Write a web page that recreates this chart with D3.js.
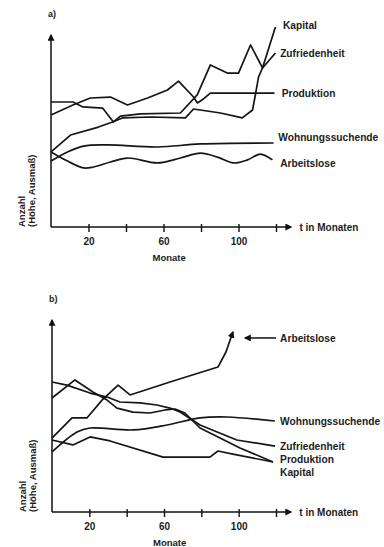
<!DOCTYPE html>
<html>
<head>
<meta charset="utf-8">
<script src="https://cdn.jsdelivr.net/npm/d3@7"></script>
<style>
  body { margin: 0; background: #fff; }
  svg { display: block; }
  text { font-family: "Liberation Sans", Arial, sans-serif; font-weight: bold; fill: #1c1c1c; }
</style>
</head>
<body>
<svg id="chart" width="384" height="547"></svg>
<script>
// months on the x axis
const tickMonths = [20, 40, 60, 80, 100, 120];
const labelledMonths = [20, 60, 100];

// panel a) : t in months, values in arbitrary units (0..100)
const aKapitalT = [0, 11.7, 17, 27.5, 33.3, 37, 47.7, 69, 78, 85, 94, 100, 106.4, 112.8, 119.7];
const aKapitalV = [65.8, 65.8, 63.2, 62.6, 55.3, 58.4, 59.5, 60, 69.5, 85.3, 81, 81, 95.8, 83.7, 105.3];
const aZufriedT = [0, 10.4, 25.3, 32.8, 38.1, 53, 71.7, 76, 90.4, 102, 107.5, 109, 110.7, 112.8, 119.7];
const aZufriedV = [39.5, 48.4, 52.6, 55.3, 57.4, 57.9, 57.4, 62.1, 60, 57.4, 61.6, 69.5, 79, 83.7, 91.6];
const aProdT = [0, 11.7, 21, 31.7, 40.8, 51.5, 62.1, 68, 76, 78.1, 81.3, 85, 119.2];
const aProdV = [58.9, 64.2, 67.9, 68.4, 64.2, 67.9, 72.1, 76.8, 68.4, 65.3, 67.4, 70.5, 70.5];
const aWohnT = [0, 8.8, 17.3, 30.1, 56.8, 79.7, 118.7];
const aWohnV = [34.7, 39.5, 42.6, 43.2, 42.1, 43.7, 44.2];
const aArbT = [0, 8.8, 17.3, 22.7, 31.7, 40.8, 56.8, 69, 79.7, 88.8, 97.3, 104.8, 111.7, 118.1];
const aArbV = [39.5, 34.7, 31.1, 31.6, 34.2, 36.3, 33.7, 36.3, 38.9, 36.8, 33.7, 35.3, 38.4, 35.3];

// panel b)
const bArbT = [0, 10.7, 18.7, 26.8, 35.4, 41.8, 63.2, 88.9, 93.2, 96.9];
const bArbV = [38.9, 49.5, 49.5, 58.9, 66.8, 61.6, 68.4, 76.3, 84.2, 94.7];
const bZufriedT = [0, 8, 20.4, 29.5, 36.4, 47.1, 56.2, 63.2, 68.6, 79.3, 99, 119.5];
const bZufriedV = [68.4, 66.8, 62.6, 60.5, 57.9, 57.4, 56.3, 54.7, 52.6, 45.8, 37.9, 34.7];
const bProdT = [0, 12.3, 21.9, 29.5, 34.8, 43.4, 52.5, 60.6, 65.9, 71.2, 79.3, 100.7, 118.4];
const bProdV = [60, 69.5, 63.2, 58.9, 54.7, 52.6, 52.1, 53.7, 54.2, 52.1, 44.2, 33.7, 26.3];
const bKapitalT = [0, 11.2, 20.4, 31.1, 59.5, 84.6, 88.9, 96.9, 118.4];
const bKapitalV = [37.9, 35.3, 39.5, 37.4, 28.9, 28.9, 32.1, 30.5, 26.3];
const bWohnT = [0, 13.4, 20.4, 43.4, 61.6, 79.3, 93.7, 119.4];
const bWohnV = [31.6, 42.1, 44.2, 43.2, 45.8, 49.5, 50, 47.9];

const zip = (t, v) => t.map((d, i) => [d, v[i]]);

const svg = d3.select("#chart");

svg.append("defs").append("marker")
    .attr("id", "arrow")
    .attr("viewBox", "0 0 10 10")
    .attr("refX", 8).attr("refY", 5)
    .attr("markerWidth", 7).attr("markerHeight", 7)
    .attr("markerUnits", "userSpaceOnUse")
    .attr("orient", "auto")
  .append("path")
    .attr("d", "M0,0 L10,5 L0,10 z")
    .attr("fill", "#111");

function drawPanel(p) {
  var x = d3.scaleLinear().domain([0, 120]).range([p.left, p.right]);
  var y = d3.scaleLinear().domain([0, 100]).range([p.bottom, p.top]);
  var g = svg.append("g");

  g.append("text")
    .attr("x", p.left - 3).attr("y", p.top - 20)
    .attr("font-size", 9)
    .text(p.name);

  // axes with arrow heads
  g.append("line")
    .attr("x1", x(0)).attr("y1", y(0))
    .attr("x2", x(0)).attr("y2", y(101))
    .attr("stroke", "#111").attr("stroke-width", 1.5)
    .attr("marker-end", "url(#arrow)");
  g.append("line")
    .attr("x1", x(0)).attr("y1", y(0))
    .attr("x2", x(128)).attr("y2", y(0))
    .attr("stroke", "#111").attr("stroke-width", 1.5)
    .attr("marker-end", "url(#arrow)");

  var axg = g.append("g")
    .attr("transform", "translate(0," + y(0) + ")")
    .call(d3.axisBottom(x)
      .tickValues(tickMonths)
      .tickFormat(d => labelledMonths.includes(d) ? d : "")
      .tickSize(5).tickSizeOuter(0).tickPadding(6));
  axg.select(".domain").remove();
  axg.selectAll(".tick line")
    .attr("y1", -3).attr("stroke", "#111").attr("stroke-width", 1.4);
  axg.selectAll(".tick text").attr("font-size", 10);

  g.append("text")
    .attr("x", x(132.5)).attr("y", y(0)).attr("dy", "0.35em")
    .attr("font-size", 10)
    .text("t in Monaten");
  g.append("text")
    .attr("x", x(63)).attr("y", y(0) + 34)
    .attr("text-anchor", "middle")
    .attr("font-size", 9.5)
    .text("Monate");

  // rotated y label
  var yl = g.append("text")
    .attr("transform", "translate(" + (p.left - 26) + "," + y(0) + ") rotate(-90)")
    .attr("font-size", 9.5);
  yl.append("tspan").attr("x", 0).attr("dy", 0).text("Anzahl");
  yl.append("tspan").attr("x", 0).attr("dy", "1.05em").text("(Höhe, Ausmaß)");

  var line = d3.line().x(d => x(d[0])).y(d => y(d[1]));

  p.series.forEach(s => {
    g.append("path")
      .datum(zip(s.t, s.v))
      .attr("fill", "none")
      .attr("stroke", "#151515")
      .attr("stroke-width", 1.7)
      .attr("stroke-linejoin", "round")
      .attr("marker-end", s.arrow ? "url(#arrow)" : null)
      .attr("d", line.curve(s.smooth ? d3.curveCatmullRom : d3.curveLinear));
  });

  p.labels.forEach(l => {
    g.append("text")
      .attr("x", x(l.at[0])).attr("y", y(l.at[1])).attr("dy", "0.35em")
      .attr("font-size", 10.2)
      .text(l.text);
  });

  if (p.pointer) {
    g.append("line")
      .attr("x1", x(p.pointer[1])).attr("y1", y(p.pointer[2]))
      .attr("x2", x(p.pointer[0])).attr("y2", y(p.pointer[2]))
      .attr("stroke", "#111").attr("stroke-width", 1.5)
      .attr("marker-end", "url(#arrow)");
  }
}

drawPanel({
  name: "a)", left: 51, right: 276, bottom: 227, top: 37,
  series: [
    { t: aKapitalT, v: aKapitalV },
    { t: aZufriedT, v: aZufriedV },
    { t: aProdT, v: aProdV },
    { t: aWohnT, v: aWohnV, smooth: true },
    { t: aArbT, v: aArbV, smooth: true }
  ],
  labels: [
    { text: "Kapital", at: [123.7, 106.3] },
    { text: "Zufriedenheit", at: [122.2, 91.6] },
    { text: "Produktion", at: [123, 70.5] },
    { text: "Wohnungssuchende", at: [121.2, 47.4] },
    { text: "Arbeitslose", at: [122.2, 33.7] }
  ]
});

drawPanel({
  name: "b)", left: 52, right: 276, bottom: 512, top: 322,
  series: [
    { t: bArbT, v: bArbV, arrow: true },
    { t: bZufriedT, v: bZufriedV },
    { t: bProdT, v: bProdV },
    { t: bKapitalT, v: bKapitalV },
    { t: bWohnT, v: bWohnV, smooth: true }
  ],
  labels: [
    { text: "Arbeitslose", at: [122.2, 91.6] },
    { text: "Wohnungssuchende", at: [122.2, 47.9] },
    { text: "Zufriedenheit", at: [122.2, 34.7] },
    { text: "Produktion", at: [122.2, 27.9] },
    { text: "Kapital", at: [122.2, 21] }
  ],
  pointer: [103.5, 120, 91.6]
});
</script>
</body>
</html>
